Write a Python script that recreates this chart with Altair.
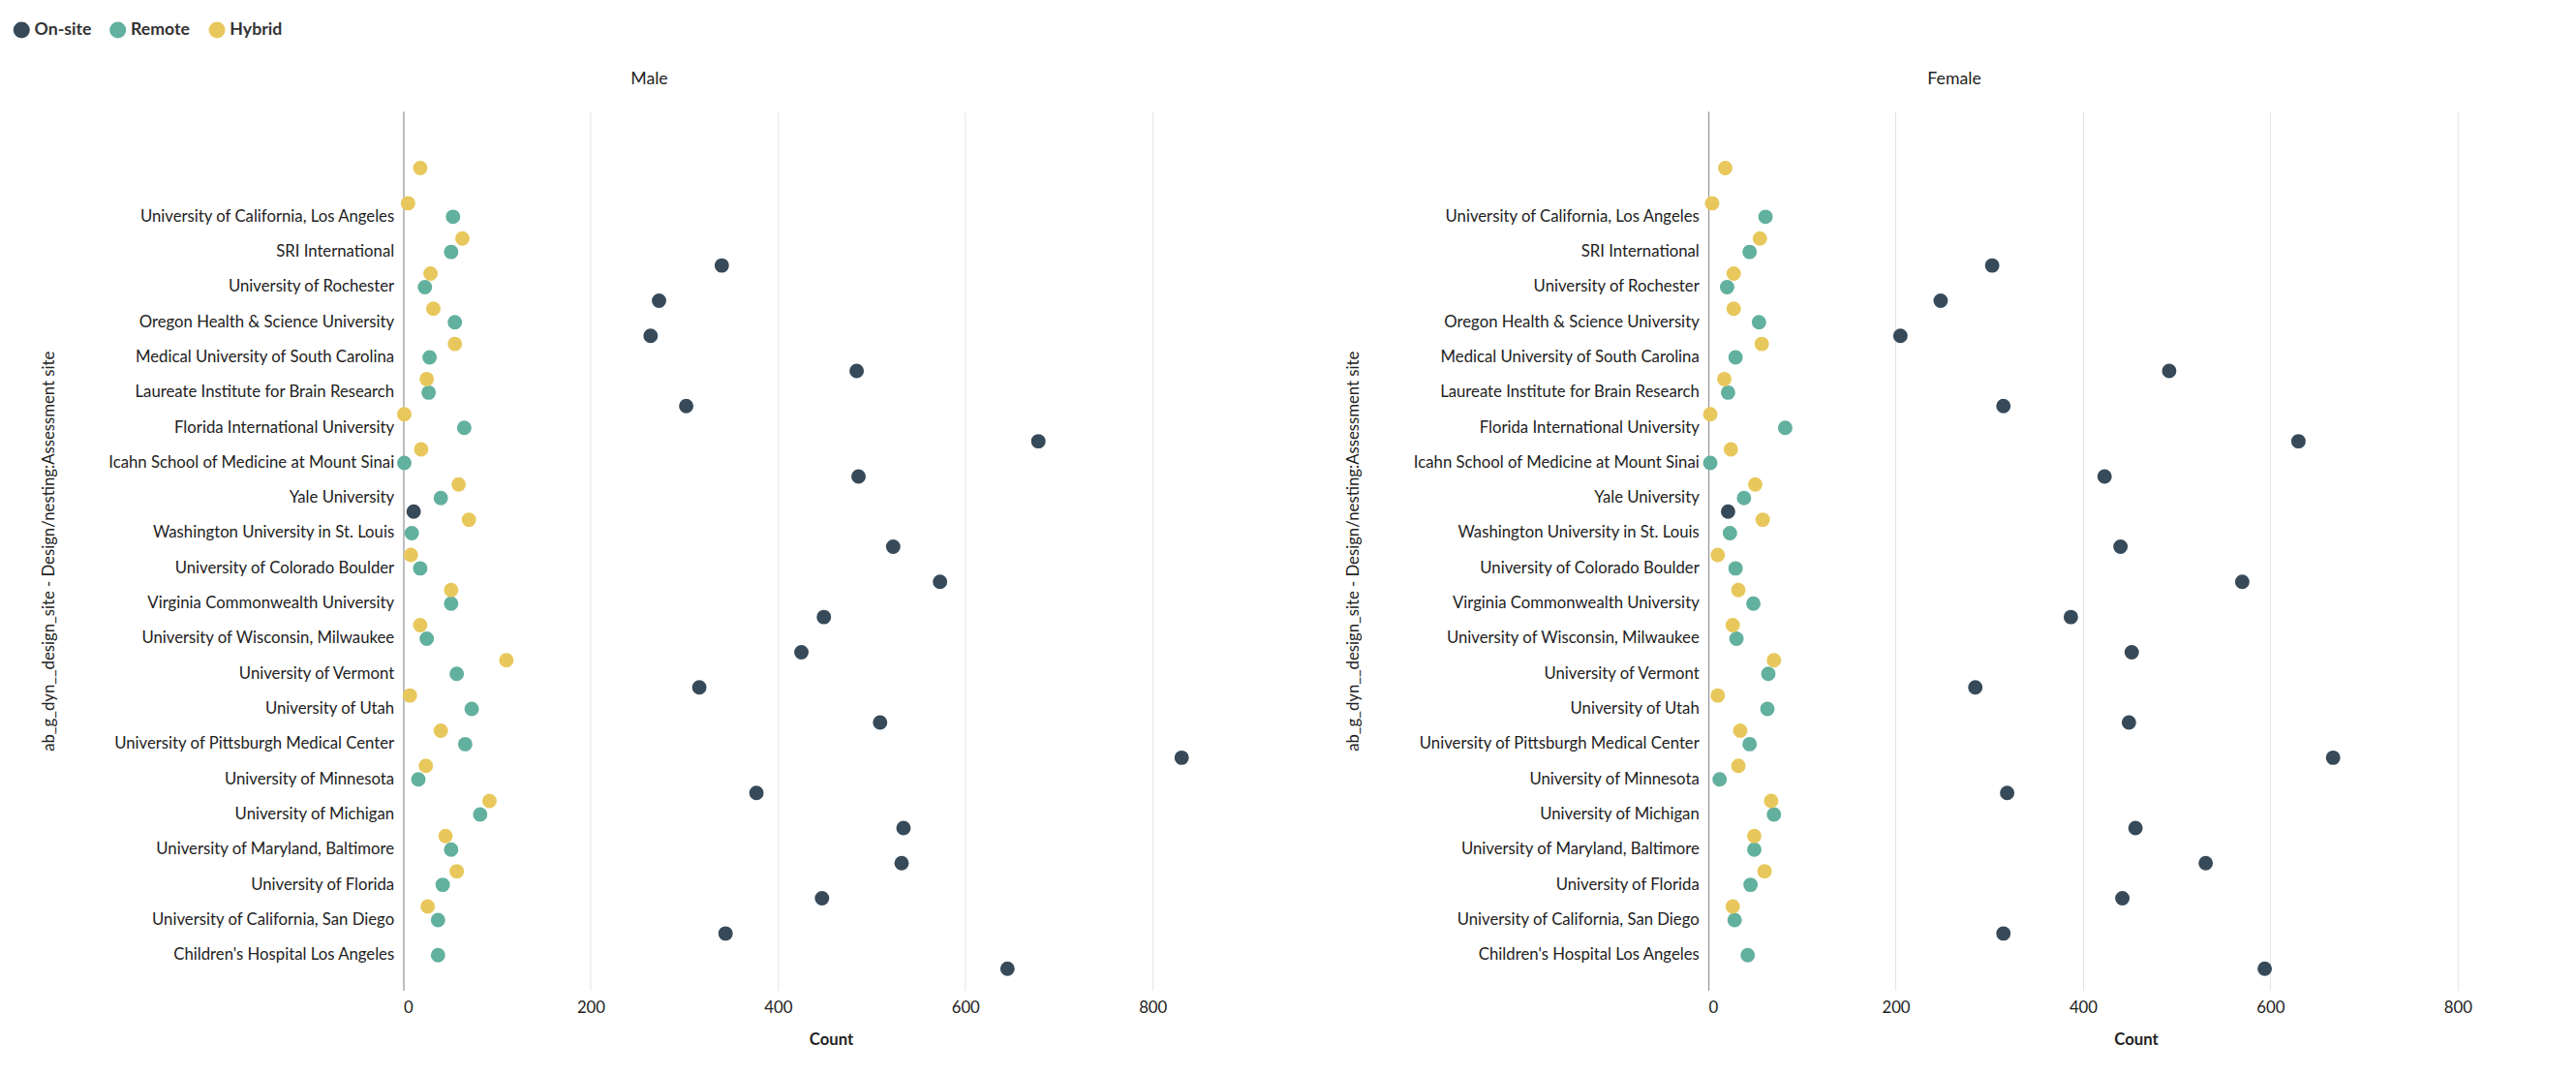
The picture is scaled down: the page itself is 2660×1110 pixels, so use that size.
import altair as alt
import pandas as pd

sites = [
    "  ", " ",
    "University of California, Los Angeles", "SRI International", "University of Rochester",
    "Oregon Health & Science University", "Medical University of South Carolina",
    "Laureate Institute for Brain Research", "Florida International University",
    "Icahn School of Medicine at Mount Sinai", "Yale University",
    "Washington University in St. Louis", "University of Colorado Boulder",
    "Virginia Commonwealth University", "University of Wisconsin, Milwaukee",
    "University of Vermont", "University of Utah", "University of Pittsburgh Medical Center",
    "University of Minnesota", "University of Michigan", "University of Maryland, Baltimore",
    "University of Florida", "University of California, San Diego", "Children's Hospital Los Angeles",
]
modes = ["On-site", "Remote", "Hybrid"]
colors = ["#374a59", "#62b09e", "#e8c85c"]

# values per site (from " " onward), None = no point
male_onsite = [None, None, 340, 273, 264, 484, 302, 678, 486, 11, 523, 573, 449, 425, 316, 509, 831, 377, 534, 532, 447, 344, 645]
male_remote = [None, 53, 51, 23, 55, 28, 27, 65, 1, 40, 9, 18, 51, 25, 57, 73, 66, 16, 82, 51, 42, 37, 37]
male_hybrid = [18, 5, 63, 29, 32, 55, 25, 1, 19, 59, 70, 8, 51, 18, 110, 7, 40, 24, 92, 45, 57, 26, None]
female_onsite = [None, None, 303, 248, 205, 492, 315, 630, 423, 21, 440, 570, 387, 452, 285, 449, 667, 319, 456, 531, 442, 315, 594]
female_remote = [None, 61, 44, 20, 54, 29, 21, 82, 2, 38, 23, 29, 48, 30, 64, 63, 44, 12, 70, 49, 45, 28, 42]
female_hybrid = [18, 4, 55, 27, 27, 57, 17, 2, 24, 50, 58, 10, 32, 26, 70, 10, 34, 32, 67, 49, 60, 26, None]

series = {
    "Male": [male_onsite, male_remote, male_hybrid],
    "Female": [female_onsite, female_remote, female_hybrid],
}

rows = []
for gender, vals in series.items():
    for mode, v in zip(modes, vals):
        for site, c in zip(sites[1:], v):
            if c is not None:
                rows.append({"gender": gender, "site": site, "mode": mode, "count": c})
df = pd.DataFrame(rows)

ytitle = "ab_g_dyn__design_site - Design/nesting:Assessment site"


def panel(gender):
    return alt.Chart(df[df["gender"] == gender]).mark_circle(size=230, opacity=1).encode(
        x=alt.X("count:Q", title="Count",
                scale=alt.Scale(domain=[0, 913], nice=False),
                axis=alt.Axis(values=[0, 200, 400, 600, 800])),
        y=alt.Y("site:N", title=ytitle, sort=sites,
                scale=alt.Scale(domain=sites, paddingInner=0, paddingOuter=0.5)),
        yOffset=alt.YOffset("mode:N", sort=["Hybrid", "Remote", "On-site"],
                            scale=alt.Scale(paddingOuter=0.3)),
        color=alt.Color("mode:N", scale=alt.Scale(domain=modes, range=colors),
                        legend=alt.Legend(title=None, orient="none", direction="horizontal",
                                          legendX=-410, legendY=-95)),
        tooltip=["site:N", "mode:N", "count:Q"],
    ).properties(
        width=897, height=922,
        title=alt.TitleParams(gender, frame="bounds", anchor="middle",
                              fontSize=18, fontWeight="normal", offset=24),
    )


chart = alt.hconcat(panel("Male"), panel("Female"), spacing=90).configure(
    font="Lato"
).configure_view(stroke=None).configure_axis(
    labelFontSize=17, titleFontSize=17, labelColor="#222", titleColor="#222",
    ticks=False, labelPadding=10, labelLimit=400,
).configure_axisX(
    domain=False, grid=True, gridColor="#e3e3e3", titlePadding=18, titleFontWeight="bold",
).configure_axisY(
    domain=True, domainColor="#888", grid=False, titleFontWeight="normal",
    titleX=-372, titleY=461, titleAngle=-90, titleBaseline="middle", titleAlign="center",
).configure_legend(
    labelFontSize=18, labelFontWeight="bold", labelColor="#333", symbolSize=300,
    symbolType="circle", columnPadding=18,
).configure_title(color="#222")

chart.save("out.html", embed_options={"renderer": "svg", "actions": False})
